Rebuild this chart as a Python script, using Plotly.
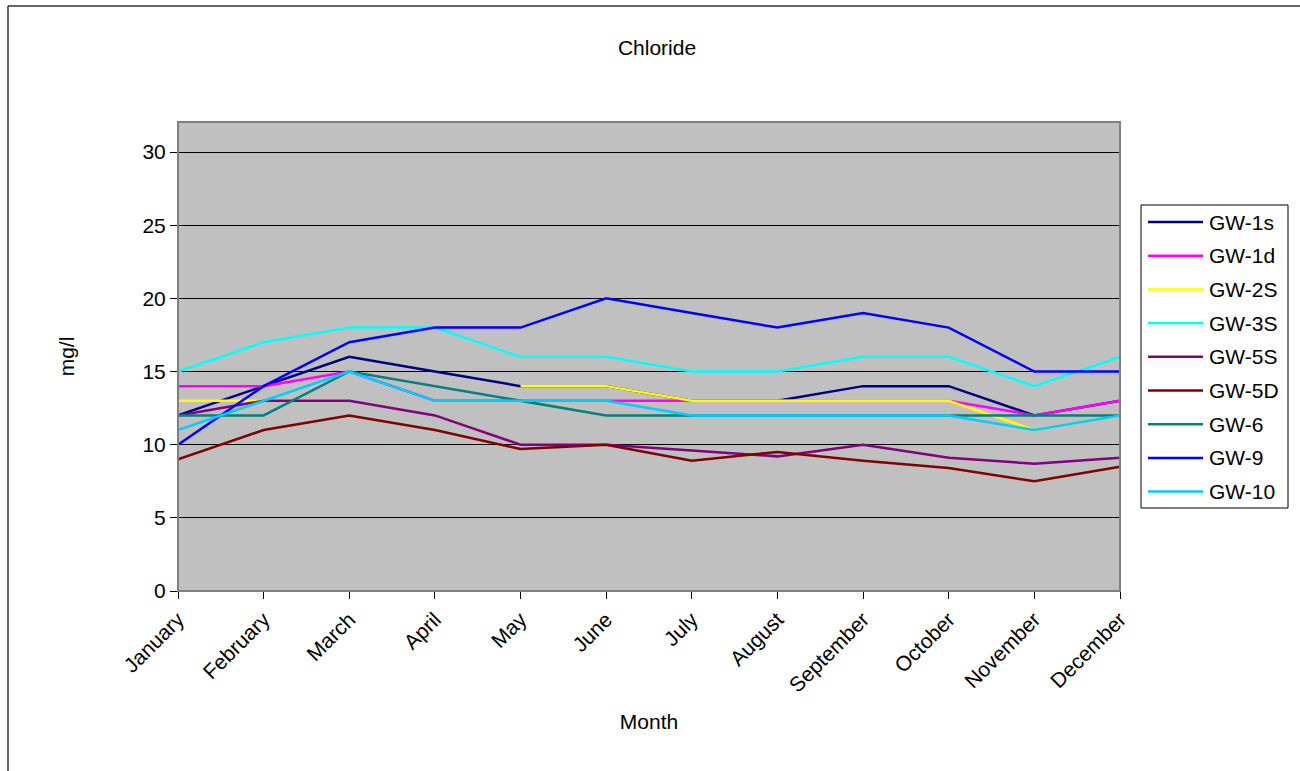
import plotly.graph_objects as go

months = ["January", "February", "March", "April", "May", "June", "July",
          "August", "September", "October", "November", "December"]

gw_1s = [12, 14, 16, 15, 14, 14, 13, 13, 14, 14, 12, 13]
gw_1d = [14, 14, 15, 13, 13, 13, 13, 13, 13, 13, 12, 13]
gw_2s = [13, 13, 13, None, 14, 14, 13, 13, 13, 13, 11, 12]
gw_3s = [15, 17, 18, 18, 16, 16, 15, 15, 16, 16, 14, 16]
gw_5s = [12, 13, 13, 12, 10, 10, 9.6, 9.2, 10, 9.1, 8.7, 9.1]
gw_5d = [9, 11, 12, 11, 9.7, 10, 8.9, 9.5, 8.9, 8.4, 7.5, 8.5]
gw_6 = [12, 12, 15, 14, 13, 12, 12, 12, 12, 12, 12, 12]
gw_9 = [10, 14, 17, 18, 18, 20, 19, 18, 19, 18, 15, 15]
gw_10 = [11, 13, 15, 13, 13, 13, 12, 12, 12, 12, 11, 12]

series = [
    ("GW-1s", gw_1s, "#000080"),
    ("GW-1d", gw_1d, "#FF00FF"),
    ("GW-2S", gw_2s, "#FFFF00"),
    ("GW-3S", gw_3s, "#00FFFF"),
    ("GW-5S", gw_5s, "#800080"),
    ("GW-5D", gw_5d, "#800000"),
    ("GW-6", gw_6, "#008080"),
    ("GW-9", gw_9, "#0000FF"),
    ("GW-10", gw_10, "#00CCFF"),
]

FONT = "Liberation Sans, Arial, sans-serif"
FS = 21

fig = go.Figure()
for name, vals, color in series:
    fig.add_trace(go.Scatter(
        x=list(range(len(months))), y=vals, name=name, mode="lines",
        line=dict(color=color, width=2.5), connectgaps=False,
        showlegend=False,
    ))

W, H = 1300, 771
L, R, T, B = 178, 180, 122, 180
pw = W - L - R
ph = H - T - B


def px_x(p):
    return (p - L) / pw


def px_y(p):
    return (H - B - p) / ph


shapes = [
    # plot area frame
    dict(type="rect", xref="paper", yref="paper", x0=0, y0=0, x1=1, y1=1,
         line=dict(color="#808080", width=2), layer="above"),
    # outer chart border (left and top edges)
    dict(type="line", xref="paper", yref="paper",
         x0=px_x(8), y0=px_y(6), x1=px_x(8), y1=px_y(W),
         line=dict(color="#333333", width=1.5)),
    dict(type="line", xref="paper", yref="paper",
         x0=px_x(8), y0=px_y(6), x1=px_x(W + 20), y1=px_y(6),
         line=dict(color="#333333", width=1.5)),
    # legend box
    dict(type="rect", xref="paper", yref="paper",
         x0=px_x(1141), y0=px_y(508), x1=px_x(1288), y1=px_y(205),
         line=dict(color="black", width=1), fillcolor="white"),
]
annotations = []

# legend entries
leg_top, leg_step = 222, 33.7
for i, (name, _, color) in enumerate(series):
    yc = leg_top + i * leg_step
    shapes.append(dict(type="line", xref="paper", yref="paper",
                       x0=px_x(1148), x1=px_x(1203), y0=px_y(yc), y1=px_y(yc),
                       line=dict(color=color, width=2.5)))
    annotations.append(dict(text=name, xref="paper", yref="paper",
                            x=px_x(1207), y=px_y(yc), xanchor="left",
                            yanchor="middle", showarrow=False,
                            font=dict(size=FS, family=FONT, color="black")))

fig.update_layout(
    width=W, height=H,
    margin=dict(l=L, r=R, t=T, b=B),
    paper_bgcolor="white",
    plot_bgcolor="#C0C0C0",
    font=dict(family=FONT, size=FS, color="black"),
    title=dict(text="Chloride", x=px_x(657), xref="paper", xanchor="center",
               y=1 - 48 / H, yanchor="middle", font=dict(size=FS)),
    showlegend=False,
    xaxis=dict(
        range=[0, len(months) - 1],
        tickmode="array", tickvals=list(range(len(months))), ticktext=months,
        tickangle=-45, ticks="outside", ticklen=7, tickcolor="black",
        tickfont=dict(size=FS),
        showline=True, linecolor="black", linewidth=1,
        showgrid=False, zeroline=False,
        title=dict(text="Month", font=dict(size=FS), standoff=18),
    ),
    yaxis=dict(
        range=[0, 32.05], tickvals=[0, 5, 10, 15, 20, 25, 30],
        ticks="outside", ticklen=7, tickcolor="black",
        tickfont=dict(size=FS),
        showline=True, linecolor="black", linewidth=1,
        showgrid=True, gridcolor="black", gridwidth=1, zeroline=False,
        title=dict(text="mg/l", font=dict(size=FS), standoff=62),
    ),
    shapes=shapes,
    annotations=annotations,
)

fig.write_html("out.html")
